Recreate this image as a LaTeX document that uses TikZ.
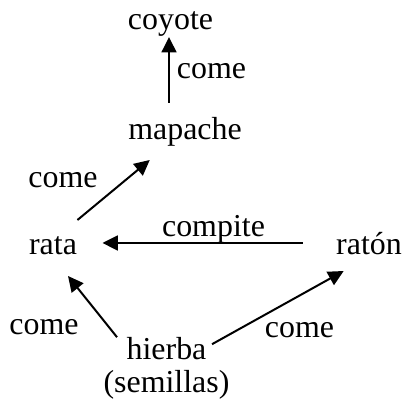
\documentclass[tikz,border=0pt]{standalone}
\usepackage{fontspec}
\setmainfont{Liberation Serif}
\usepackage{tikz}
\usetikzlibrary{arrows.meta}

\tikzset{
	word/.style={inner sep=0pt, anchor=base, font=\fontsize{12}{12.3}\selectfont},
	arr/.style={-{Triangle[length=5.8pt,width=5.6pt]}, line width=0.75pt}
}

\begin{document}
\begin{tikzpicture}[x=0.376pt, y=-0.376pt]
	\useasboundingbox (0,0) rectangle (409,403);
	
	\node[word] (coyote)  at (170.5, 29.3)  {coyote};
	\node[word] (mapache) at (185, 139.5)   {mapache};
	\node[word] (rata)    at (53, 255)      {rata};
	\node[word] (raton)   at (369, 255)     {ratón};
	\node[word, anchor=north, align=center] (hierba) at (166.5, 337.2) {hierba\\(semillas)};
	
	\node[word] (come1)   at (211.5, 79)    {come};
	\node[word] (come2)   at (63, 188)      {come};
	\node[word] (compite) at (213.5, 236.7) {compite};
	\node[word] (come3)   at (44, 335)      {come};
	\node[word] (come4)   at (299.5, 338)   {come};
	
	\draw[arr] ([shift={(-16,-36.8)}]mapache.base) -- ([shift={(-1.5,7.7)}]coyote.base);
	\draw[arr] ([shift={(0,-35)}]rata.base east) -- ([shift={(22,20.5)}]mapache.base west);
	\draw[arr] ([shift={(-33,-12)}]raton.base west) -- ([shift={(25,-12)}]rata.base east);
	\draw[arr] ([shift={(-49.5,0)}]hierba.north) -- ([shift={(15,21)}]rata.base);
	\draw[arr] ([shift={(45.5,7)}]hierba.north) -- ([shift={(8,16)}]raton.base west);

\end{tikzpicture}
\end{document}
